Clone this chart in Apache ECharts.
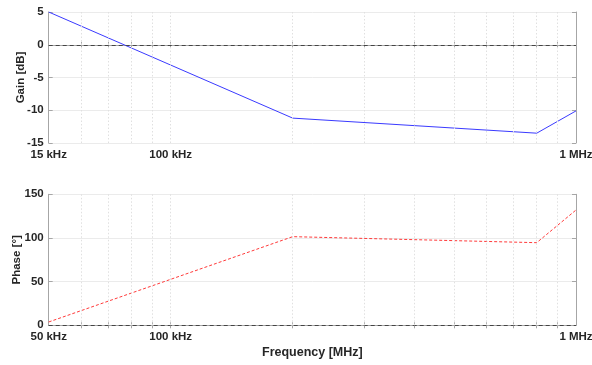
<!DOCTYPE html>
<html>
<head>
<meta charset="utf-8">
<script src="https://cdn.jsdelivr.net/npm/echarts@6/dist/echarts.min.js"></script>
<style>html,body{margin:0;padding:0;background:#fff}#c{width:592px;height:365px}</style>
</head>
<body>
<div id="c"></div>
<script>
// Data
var freqHz = [50000, 200000, 800000, 1000000];
var gainDb = [5, -11.2, -13.5, -10.1];
var phaseDeg = [3.8, 101.5, 94.6, 132];
var xTickValues = [50000, 100000, 1000000];
var topTickLabels = ['15 kHz', '100 kHz', '1 MHz'];
var bottomTickLabels = ['50 kHz', '100 kHz', '1 MHz'];
var xGridValues = [60000, 70000, 80000, 90000, 100000, 200000, 300000, 400000, 500000, 600000, 700000, 800000, 900000];

var FONT = '"Liberation Sans", Arial, sans-serif';
var boxColor = '#a6a6a6';
var textColor = '#262626';

function labelFor(labels) {
  return function (v) {
    var best = 0, bd = Infinity;
    for (var i = 0; i < xTickValues.length; i++) {
      var d = Math.abs(Math.log10(v) - Math.log10(xTickValues[i]));
      if (d < bd) { bd = d; best = i; }
    }
    return bd < 0.01 ? labels[best] : '';
  };
}

function xAxisBottom(gridIndex, labels, name) {
  return {
    type: 'log', logBase: 10, gridIndex: gridIndex, min: 50000, max: 1000000,
    position: 'bottom',
    name: name || '', nameLocation: 'middle', nameGap: 21, nameMoveOverlap: false,
    nameTextStyle: { fontFamily: FONT, fontWeight: 'bold', fontSize: 12.5, color: textColor },
    axisLine: { show: true, lineStyle: { color: boxColor, width: 1 } },
    axisTick: { show: true, inside: true, length: 3, customValues: xGridValues, lineStyle: { color: boxColor } },
    axisLabel: { show: true, customValues: xTickValues, formatter: labelFor(labels), margin: 6,
      fontFamily: FONT, fontWeight: 'bold', fontSize: 11.5, color: textColor, showMinLabel: true, showMaxLabel: true },
    splitLine: { show: false },
    minorTick: { show: false }
  };
}
function xAxisTop(gridIndex) {
  return {
    type: 'log', logBase: 10, gridIndex: gridIndex, min: 50000, max: 1000000,
    position: 'top',
    axisLine: { show: true, lineStyle: { color: boxColor, width: 1 } },
    axisTick: { show: true, inside: true, length: 3, customValues: xGridValues, lineStyle: { color: boxColor } },
    axisLabel: { show: false },
    splitLine: { show: false }
  };
}
function yAxis(gridIndex, min, max, interval, name, gap, pos, showLabel) {
  return {
    type: 'value', gridIndex: gridIndex, min: min, max: max, interval: interval,
    position: pos,
    name: name, nameLocation: 'middle', nameGap: gap, nameMoveOverlap: false,
    nameTextStyle: { fontFamily: FONT, fontWeight: 'bold', fontSize: 11.5, color: textColor },
    axisLine: { show: true, lineStyle: { color: boxColor, width: 1 } },
    axisTick: { show: true, inside: true, length: 4, lineStyle: { color: boxColor } },
    axisLabel: { show: showLabel, margin: 5, fontFamily: FONT, fontWeight: 'bold', fontSize: 11.5, color: textColor },
    splitLine: { show: showLabel, lineStyle: { color: '#ebebeb', width: 1 } }
  };
}

function refLines() {
  var data = [{ yAxis: 0, lineStyle: { color: '#444', type: [4, 3], width: 1 } }];
  xGridValues.forEach(function (v) {
    data.push({ xAxis: v, lineStyle: { color: '#e0e0e0', type: [1.5, 2], width: 1 } });
  });
  return {
    silent: true, symbol: 'none', label: { show: false },
    data: data
  };
}

var chart = echarts.init(document.getElementById('c'), null, { renderer: 'canvas' });
chart.setOption({
  animation: false,
  backgroundColor: '#ffffff',
  grid: [
    { left: 48.7, right: 16, top: 12, height: 131, containLabel: false, outerBoundsMode: 'none' },
    { left: 48.7, right: 16, top: 194.3, height: 131, containLabel: false, outerBoundsMode: 'none' }
  ],
  xAxis: [
    xAxisBottom(0, topTickLabels),
    xAxisTop(0),
    xAxisBottom(1, bottomTickLabels, 'Frequency [MHz]'),
    xAxisTop(1)
  ],
  yAxis: [
    yAxis(0, -15, 5, 5, 'Gain [dB]', 22, 'left', true),
    yAxis(0, -15, 5, 5, '', 0, 'right', false),
    yAxis(1, 0, 150, 50, 'Phase [°]', 26, 'left', true),
    yAxis(1, 0, 150, 50, '', 0, 'right', false)
  ],
  series: [
    {
      type: 'line', xAxisIndex: 0, yAxisIndex: 0, symbol: 'none',
      data: freqHz.map(function (f, i) { return [f, gainDb[i]]; }),
      lineStyle: { color: '#3a3aff', width: 1 },
      markLine: refLines(), z: 3
    },
    {
      type: 'line', xAxisIndex: 2, yAxisIndex: 2, symbol: 'none',
      data: freqHz.map(function (f, i) { return [f, phaseDeg[i]]; }),
      lineStyle: { color: '#ff3a3a', width: 1, type: [3, 2] },
      markLine: refLines(), z: 3
    }
  ]
});
</script>
</body>
</html>
